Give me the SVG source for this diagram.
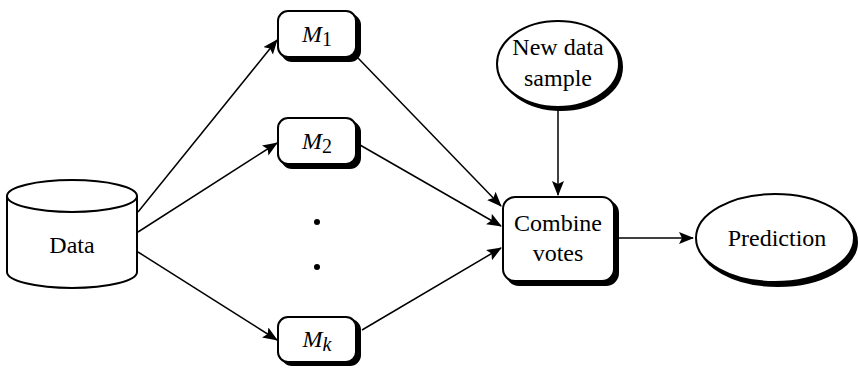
<svg xmlns="http://www.w3.org/2000/svg" width="858" height="368" viewBox="0 0 858 368">
<style>
.sh{fill:#000;stroke:#000;stroke-width:2}
.fg{fill:#fff;stroke:#000;stroke-width:2}
text{font-family:'Liberation Serif','Times New Roman',serif;fill:#000;text-anchor:middle}
.t{font-size:24px}
.m{font-size:24px}
.c{stroke:#000;stroke-width:1.5;fill:none;marker-end:url(#ah)}
</style>
<defs>
<marker id="ah" markerUnits="userSpaceOnUse" markerWidth="16" markerHeight="12" refX="14" refY="6" orient="auto">
<path d="M0,0 L15,6 L0,12 L3,6 Z" fill="#000"/>
</marker>
</defs>
<g id="connectors">
<line class="c" x1="138" y1="212" x2="277" y2="40"/>
<line class="c" x1="138" y1="232" x2="277" y2="143"/>
<line class="c" x1="138" y1="252" x2="277" y2="340"/>
<line class="c" x1="358" y1="58" x2="501" y2="206"/>
<line class="c" x1="360" y1="145" x2="501" y2="226"/>
<line class="c" x1="362" y1="330" x2="501" y2="248"/>
<line class="c" x1="558" y1="109" x2="558" y2="195"/>
<line class="c" x1="618" y1="238" x2="693" y2="238"/>
</g>
<g id="data">
<path class="fg" d="M7,196 L7,272 A65,16 0 0 0 137,272 L137,196"/>
<ellipse class="fg" cx="72" cy="196" rx="65" ry="16"/>
<text class="t" x="72" y="253">Data</text>
</g>
<g id="m1">
<rect class="sh" x="282" y="15" width="78" height="46" rx="10"/>
<rect class="fg" x="278" y="11" width="78" height="46" rx="10"/>
<text class="m" x="317" y="42"><tspan font-style="italic">M</tspan><tspan font-size="20" dy="4">1</tspan></text>
</g>
<g id="m2">
<rect class="sh" x="282" y="122" width="78" height="46" rx="10"/>
<rect class="fg" x="278" y="118" width="78" height="46" rx="10"/>
<text class="m" x="317" y="149"><tspan font-style="italic">M</tspan><tspan font-size="20" dy="4">2</tspan></text>
</g>
<g id="dots">
<circle cx="317" cy="222" r="3" fill="#000"/>
<circle cx="317" cy="267" r="3" fill="#000"/>
</g>
<g id="mk">
<rect class="sh" x="282" y="320" width="78" height="45" rx="10"/>
<rect class="fg" x="278" y="317" width="78" height="45" rx="10"/>
<text class="m" x="317" y="347"><tspan font-style="italic">M</tspan><tspan font-size="20" font-style="italic" dy="4">k</tspan></text>
</g>
<g id="newdata">
<ellipse class="sh" cx="561" cy="67" rx="61" ry="43"/>
<ellipse class="fg" cx="558" cy="64" rx="61" ry="43"/>
<text class="t" x="558" y="55">New data</text>
<text class="t" x="558" y="86">sample</text>
</g>
<g id="combine">
<rect class="sh" x="507" y="201" width="111" height="84" rx="12"/>
<rect class="fg" x="503" y="197" width="111" height="84" rx="12"/>
<text class="t" x="558" y="231">Combine</text>
<text class="t" x="558" y="261">votes</text>
</g>
<g id="prediction">
<ellipse class="sh" cx="778" cy="242" rx="79" ry="44"/>
<ellipse class="fg" cx="775" cy="238" rx="79" ry="44"/>
<text class="t" x="777" y="246">Prediction</text>
</g>
</svg>
